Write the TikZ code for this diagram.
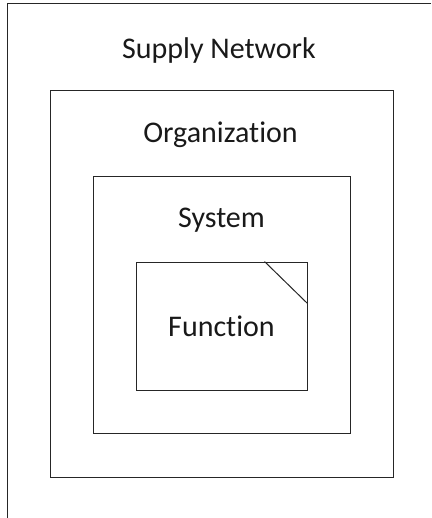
\documentclass[tikz,border=0pt]{standalone}
\usepackage{fontspec}
\setmainfont[Ligatures={NoCommon}]{Carlito}
\begin{document}
\begin{tikzpicture}[x=1pt,y=-1pt,
  box/.style={draw=black!85, line width=1pt, inner sep=0pt},
  lbl/.style={font=\fontsize{30}{33}\selectfont, anchor=base, text=black!90, inner sep=0pt}]
\useasboundingbox (0,0) rectangle (431,518);
% outer (cut off at right and bottom)
\coordinate (otr) at (431,4);
\coordinate (otl) at (7,4);
\coordinate (obl) at (7,518);
\draw[draw=black!85, line width=1pt] (otr) -- (otl) -- (obl);
\node[box, minimum width=343pt, minimum height=386pt] (org) at (221.5,284) {};
\node[box, minimum width=257pt, minimum height=256pt] (sys) at (221.5,305) {};
\node[box, minimum width=171pt, minimum height=128pt] (fun) at (221.5,326) {};
\coordinate (c1) at ([xshift=-43pt]fun.north east);
\coordinate (c2) at ([yshift=-42pt]fun.north east);
\draw[draw=black!85, line width=1pt] (c1) -- (c2);
\node[lbl] (tsn) at (219,59) {Supply Network};
\node[lbl] (torg) at (220.5,143) {Organization};
\node[lbl] (tsys) at (221.5,227) {System};
\node[lbl] (tfun) at (221.5,336) {Function};
\end{tikzpicture}
\end{document}
